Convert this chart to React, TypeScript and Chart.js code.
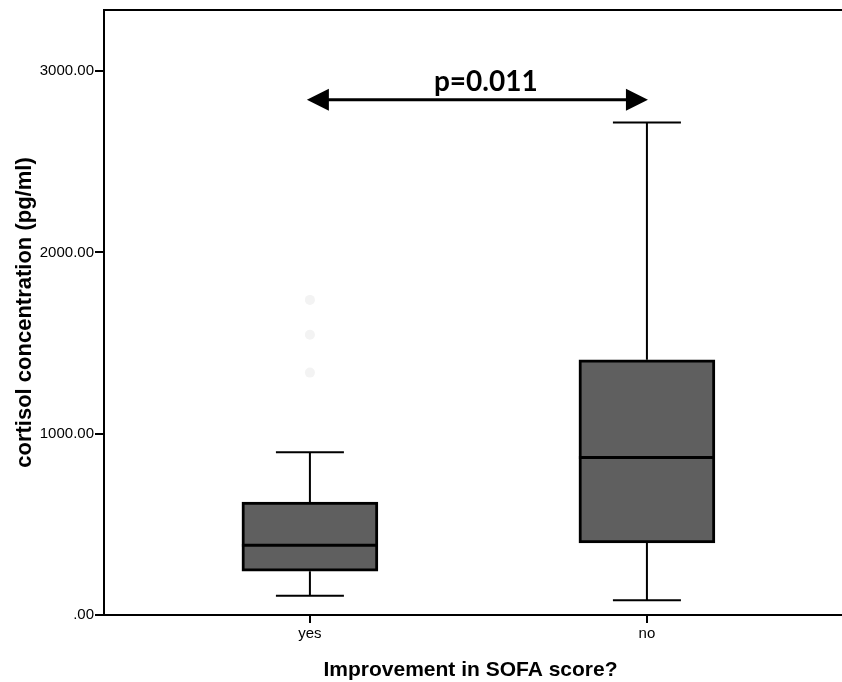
import React, { useEffect, useRef } from 'react';
import { Chart, registerables } from 'chart.js';

Chart.register(...registerables);

const categories = ['yes', 'no'];
const positions = [0, 1];
const whiskerLow = [106, 82];
const q1 = [242, 398];
const median = [385, 869];
const q3 = [623, 1408];
const whiskerHigh = [898, 2717];
const faintOutliers = [1738, 1546, 1337]; // group "yes", barely visible marks
const yTicks = [0, 1000, 2000, 3000];
const pLabel = 'p=0.011';
const arrowY = 2842;
const arrowFromX = -0.009;
const arrowToX = 1.003;
const labelX = 0.522;
const labelY = 2892;

const FONT = "'Liberation Sans', Arial, sans-serif";

const boxPlugin = {
  id: 'boxWhisker',
  beforeDatasetsDraw(chart: any) {
    const { ctx, scales } = chart;
    const xs = scales.x;
    const ys = scales.y;
    const meta = chart.getDatasetMeta(0);
    ctx.save();
    ctx.strokeStyle = '#000';
    ctx.lineWidth = 2;
    positions.forEach((p, i) => {
      const cx = xs.getPixelForValue(p);
      const bw = meta.data[i] ? meta.data[i].width : 136;
      const half = bw / 4;
      const yLow = ys.getPixelForValue(whiskerLow[i]);
      const yQ1 = ys.getPixelForValue(q1[i]);
      const yQ3 = ys.getPixelForValue(q3[i]);
      const yHigh = ys.getPixelForValue(whiskerHigh[i]);
      ctx.beginPath();
      ctx.moveTo(cx, yLow);
      ctx.lineTo(cx, yQ1);
      ctx.moveTo(cx, yQ3);
      ctx.lineTo(cx, yHigh);
      ctx.moveTo(cx - half, yLow);
      ctx.lineTo(cx + half, yLow);
      ctx.moveTo(cx - half, yHigh);
      ctx.lineTo(cx + half, yHigh);
      ctx.stroke();
    });
    ctx.restore();
  },
  afterDatasetsDraw(chart: any) {
    const { ctx, scales, chartArea } = chart;
    const xs = scales.x;
    const ys = scales.y;
    const meta = chart.getDatasetMeta(0);
    ctx.save();
    // medians
    ctx.strokeStyle = '#000';
    ctx.lineWidth = 3;
    positions.forEach((p, i) => {
      const cx = xs.getPixelForValue(p);
      const bw = meta.data[i] ? meta.data[i].width : 136;
      const y = ys.getPixelForValue(median[i]);
      ctx.beginPath();
      ctx.moveTo(cx - bw / 2, y);
      ctx.lineTo(cx + bw / 2, y);
      ctx.stroke();
    });
    // top frame line and continuation of the x axis to the edge
    ctx.lineWidth = 2;
    ctx.beginPath();
    ctx.moveTo(chartArea.left - 1, chartArea.top);
    ctx.lineTo(chart.width, chartArea.top);
    ctx.moveTo(chartArea.right - 1, chartArea.bottom);
    ctx.lineTo(chart.width, chartArea.bottom);
    ctx.stroke();
    // arrow
    const ax1 = xs.getPixelForValue(arrowFromX);
    const ax2 = xs.getPixelForValue(arrowToX);
    const ay = ys.getPixelForValue(arrowY);
    const head = 22;
    const hh = 11;
    ctx.lineWidth = 3;
    ctx.beginPath();
    ctx.moveTo(ax1 + head - 2, ay);
    ctx.lineTo(ax2 - head + 2, ay);
    ctx.stroke();
    ctx.fillStyle = '#000';
    ctx.beginPath();
    ctx.moveTo(ax1, ay);
    ctx.lineTo(ax1 + head, ay - hh);
    ctx.lineTo(ax1 + head, ay + hh);
    ctx.closePath();
    ctx.fill();
    ctx.beginPath();
    ctx.moveTo(ax2, ay);
    ctx.lineTo(ax2 - head, ay - hh);
    ctx.lineTo(ax2 - head, ay + hh);
    ctx.closePath();
    ctx.fill();
    // p label
    ctx.font = "bold 28px Lato, 'Open Sans', sans-serif";
    ctx.textAlign = 'center';
    ctx.textBaseline = 'alphabetic';
    ctx.fillText(pLabel, xs.getPixelForValue(labelX), ys.getPixelForValue(labelY));
    ctx.restore();
  },
};

export default function App() {
  const ref = useRef<HTMLCanvasElement>(null);
  useEffect(() => {
    if (!ref.current) return;
    const chart = new Chart(ref.current, {
      type: 'bar',
      data: {
        datasets: [
          {
            type: 'bar',
            data: positions.map((p, i) => ({ x: p, y: [q1[i], q3[i]] })) as any,
            backgroundColor: '#5f5f5f',
            borderColor: '#000',
            borderWidth: 3,
            borderSkipped: false,
            barThickness: 136,
            order: 2,
          } as any,
          {
            type: 'scatter',
            data: faintOutliers.map((v) => ({ x: positions[0], y: v })),
            backgroundColor: '#f3f3f3',
            borderWidth: 0,
            pointRadius: 5,
            order: 1,
          } as any,
        ],
      },
      options: {
        responsive: false,
        animation: false,
        layout: { padding: { top: 8, right: 0, left: 0, bottom: 0 } },
        plugins: { legend: { display: false }, tooltip: { enabled: false } },
        scales: {
          x: {
            type: 'linear',
            offset: false,
            min: -0.611,
            max: 1.564,
            afterBuildTicks: (s: any) => {
              s.ticks = positions.map((v) => ({ value: v }));
            },
            afterFit: (s: any) => {
              s.height = 67;
            },
            ticks: {
              callback: (v: any) => {
                const i = positions.indexOf(Number(v));
                return i >= 0 ? categories[i] : '';
              },
              color: '#000',
              font: { family: FONT, size: 15 },
              padding: 2,
              maxRotation: 0,
            },
            grid: { offset: false, drawOnChartArea: false, drawTicks: true, tickLength: 8, color: '#000', lineWidth: 2 },
            border: { display: true, color: '#000', width: 2 },
            title: {
              display: true,
              text: 'Improvement in SOFA score?',
              color: '#000',
              font: { family: FONT, size: 21, weight: 'bold', lineHeight: 1 },
              padding: { top: 0, bottom: 1 },
            },
          },
          y: {
            type: 'linear',
            min: 0,
            max: 3337,
            afterBuildTicks: (s: any) => {
              s.ticks = yTicks.map((v) => ({ value: v }));
            },
            afterFit: (s: any) => {
              s.width = 104;
            },
            ticks: {
              callback: (v: any) => (Number(v) === 0 ? '.00' : Number(v).toFixed(2)),
              color: '#000',
              font: { family: FONT, size: 15 },
              padding: 1,
            },
            grid: { drawOnChartArea: false, drawTicks: true, tickLength: 9, color: '#000', lineWidth: 2 },
            border: { display: true, color: '#000', width: 2 },
            title: {
              display: true,
              text: 'cortisol concentration (pg/ml)',
              color: '#000',
              font: { family: FONT, size: 22, weight: 'bold' },
              padding: { top: 12, bottom: 0 },
            },
          },
        },
      } as any,
      plugins: [boxPlugin],
    });
    return () => chart.destroy();
  }, []);
  return (
    <div style={{ position: 'absolute', left: 0, top: 0, width: 842, height: 682 }}>
      <canvas ref={ref} width={842} height={682} />
    </div>
  );
}
